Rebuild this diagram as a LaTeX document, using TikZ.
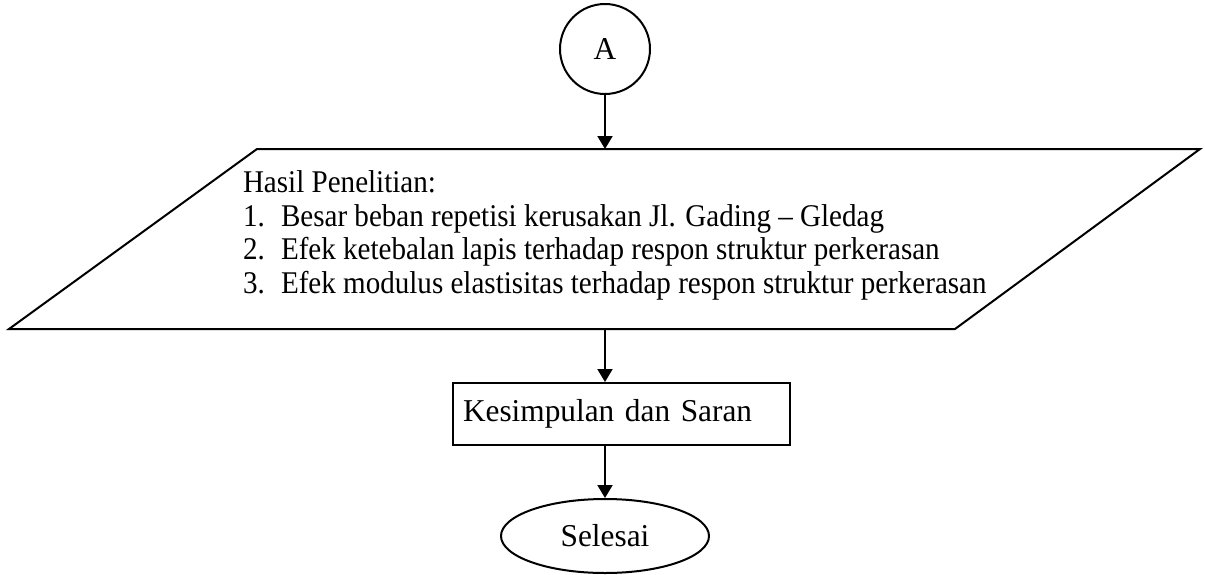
\documentclass[tikz,border=0pt]{standalone}
\usepackage{fontspec}
\setmainfont[FakeStretch=0.985]{Liberation Serif}
\newfontfamily\hasilfont[Ligatures=TeX,FakeStretch=0.92]{Liberation Serif}
\usetikzlibrary{arrows.meta,shapes.geometric}

\newcommand{\hasilitem}[2]{\makebox[19pt][l]{#1}#2}

\begin{document}
\begin{tikzpicture}[x=0.5pt,y=-0.5pt,
  font=\fontsize{15.9}{16.7}\selectfont,
  line width=1pt,
  flowline/.style={-{Triangle[length=6.5pt,width=7.5pt]}}]

\useasboundingbox (0,0) rectangle (1205,574);

%%% connector A --> hasil --> kesimpulan --> selesai
  \node[draw,circle,minimum size=45pt,inner sep=0pt] (conA) at (605,49) {A};

  \coordinate (pTL) at (257,149);
  \coordinate (pTR) at (1200,149);
  \coordinate (pBR) at (955,329);
  \coordinate (pBL) at (9,329);
  \coordinate (pT) at (605,149);
  \coordinate (pB) at (605,329);
  \draw (pTL) -- (pTR) -- (pBR) -- (pBL) -- cycle;

  \node[anchor=north west,inner sep=0pt,align=left,
        font=\hasilfont\fontsize{15.8}{16.7}\selectfont] (hasil) at (242,170)
    {Hasil Penelitian:\\
     \hasilitem{1.}{Besar beban repetisi kerusakan Jl. Gading -- Gledag}\\
     \hasilitem{2.}{Efek ketebalan lapis terhadap respon struktur perkerasan}\\
     \hasilitem{3.}{Efek modulus elastisitas terhadap respon struktur perkerasan}};

  \node[draw,rectangle,minimum height=31pt,inner xsep=5pt,
        text width=158.5pt,align=left] (kesimpulan) at (621.5,414)
    {Kesimpulan dan Saran};

  \node[draw,ellipse,minimum width=104pt,minimum height=37pt,inner sep=0pt]
    (selesai) at (605,536) {Selesai};

  \draw[flowline] (conA) -- (pT);
  \draw[flowline] (pB) -- (pB |- kesimpulan.north);
  \draw[flowline] (selesai.north |- kesimpulan.south) -- (selesai);

\end{tikzpicture}
\end{document}
